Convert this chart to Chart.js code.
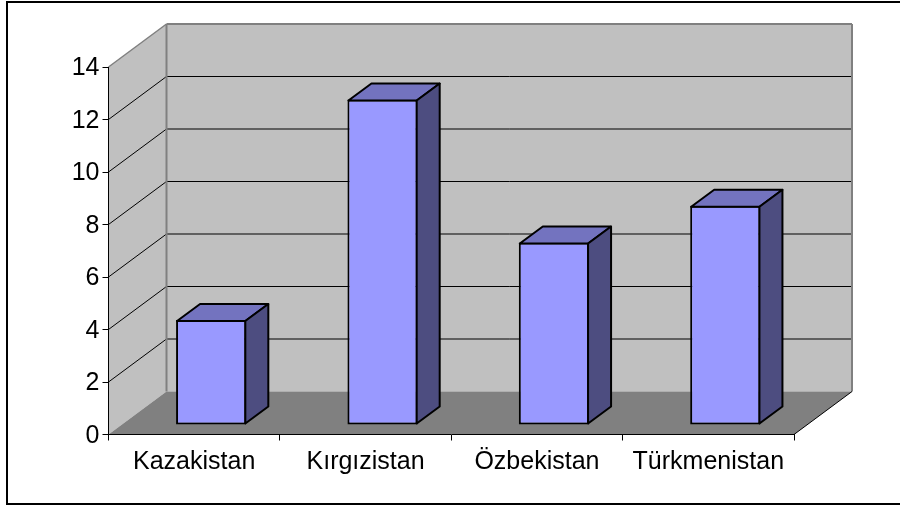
<!DOCTYPE html>
<html><head><meta charset="utf-8">
<style>html,body{margin:0;padding:0;background:#fff}#w{width:900px;height:508px}canvas{display:block}</style>
<script src="https://cdn.jsdelivr.net/npm/chart.js@4/dist/chart.umd.min.js"></script>
</head><body><div id="w"><canvas id="c" width="900" height="508"></canvas></div>
<script>
const categories = ["Kazakistan", "Kırgızistan", "Özbekistan", "Türkmenistan"];
const values = [4, 12.4, 6.95, 8.35];
const yTicks = [0, 2, 4, 6, 8, 10, 12, 14];
const FRONT = "#9999FF", TOP = "#7373BF", SIDE = "#4D4D80";
const WALL = "#C0C0C0", FLOOR = "#808080";
const BACK = {dx: 58, dy: -43};
const BAR_SHIFT = {dx: 17, dy: -9.5};
const BAR_DEPTH = {dx: 23, dy: -17};

function poly(ctx, pts, fill, stroke, lw) {
  ctx.beginPath();
  pts.forEach((p, i) => i ? ctx.lineTo(p[0], p[1]) : ctx.moveTo(p[0], p[1]));
  ctx.closePath();
  if (fill) { ctx.fillStyle = fill; ctx.fill(); }
  if (stroke) { ctx.strokeStyle = stroke; ctx.lineWidth = lw; ctx.stroke(); }
}
function line(ctx, x1, y1, x2, y2, color, lw) {
  ctx.beginPath(); ctx.moveTo(x1, y1); ctx.lineTo(x2, y2);
  ctx.strokeStyle = color; ctx.lineWidth = lw; ctx.stroke();
}
const stage = {
  id: "stage",
  beforeDraw(chart) {
    const {ctx, chartArea: a, scales: {y}} = chart;
    const bx = BACK.dx, by = BACK.dy;
    ctx.save();
    ctx.fillStyle = "#fff"; ctx.fillRect(0, 0, 900, 508);
    // outer frame
    ctx.strokeStyle = "#000"; ctx.lineWidth = 2;
    ctx.beginPath(); ctx.moveTo(901, 2); ctx.lineTo(7, 2); ctx.lineTo(7, 504); ctx.lineTo(901, 504); ctx.stroke();
    const y0 = y.getPixelForValue(0), yT = y.getPixelForValue(14);
    // walls and floor
    poly(ctx, [[a.left, y0], [a.left + bx, y0 + by], [a.left + bx, yT + by], [a.left, yT]], WALL);
    poly(ctx, [[a.left + bx, y0 + by], [a.right + bx, y0 + by], [a.right + bx, yT + by], [a.left + bx, yT + by]], WALL);
    poly(ctx, [[a.left, y0], [a.right, y0], [a.right + bx, y0 + by], [a.left + bx, y0 + by]], FLOOR);
    // grid lines
    yTicks.forEach(v => {
      if (v === 0 || v === 14) return;
      const p = y.getPixelForValue(v);
      line(ctx, a.left, p, a.left + bx, p + by, "#000", 1);
      line(ctx, a.left + bx, p + by, a.right + bx, p + by, "#000", 1);
    });
    // wall outlines
    line(ctx, a.left, yT, a.left + bx, yT + by, "#808080", 1.5);
    line(ctx, a.left + bx, yT + by, a.right + bx, yT + by, "#808080", 2);
    line(ctx, a.left + bx, yT + by, a.left + bx, y0 + by, "#808080", 2);
    line(ctx, a.right + bx, yT + by, a.right + bx, y0 + by, "#808080", 2);
    line(ctx, a.right, y0, a.right + bx, y0 + by, "#000", 1);
    ctx.restore();
  },
  beforeDatasetDraw(chart) {
    chart.ctx.save();
    chart.ctx.translate(BAR_SHIFT.dx, BAR_SHIFT.dy);
  },
  afterDatasetDraw(chart, args) {
    const ctx = chart.ctx, d = BAR_DEPTH;
    chart.getDatasetMeta(args.index).data.forEach(el => {
      const l = el.x - el.width / 2 + 1, r = el.x + el.width / 2 - 1, t = el.y + 1, b = el.base - 1;
      ctx.lineJoin = "round";
      poly(ctx, [[l, t], [r, t], [r + d.dx, t + d.dy], [l + d.dx, t + d.dy]], TOP, "#000", 2);
      poly(ctx, [[r, t], [r + d.dx, t + d.dy], [r + d.dx, b + d.dy], [r, b]], SIDE, "#000", 2);
    });
    ctx.restore();
  }
};
new Chart(document.getElementById("c"), {
  type: "bar",
  data: {labels: categories, datasets: [{
    data: values, backgroundColor: FRONT, borderColor: "#000", borderWidth: 2, borderSkipped: false,
    barPercentage: 0.41, categoryPercentage: 1, clip: false
  }]},
  plugins: [stage],
  options: {
    responsive: false, animation: false, devicePixelRatio: 1,
    layout: {padding: {left: 0, right: 106, top: 67, bottom: 0}},
    plugins: {legend: {display: false}, title: {display: false}, tooltip: {enabled: false}},
    scales: {
      x: {
        afterFit(s) { s.height = 73.5; },
        grid: {drawOnChartArea: false, drawTicks: true, tickLength: 6, tickColor: "#000", offset: true},
        border: {display: true, color: "#000", width: 1},
        ticks: {color: "#000", font: {family: "'Liberation Sans', Arial", size: 25}, padding: 7, maxRotation: 0, autoSkip: false}
      },
      y: {
        min: 0, max: 14,
        afterFit(s) { s.width = 108.5; },
        afterBuildTicks(s) { s.ticks = yTicks.map(v => ({value: v})); },
        grid: {drawOnChartArea: false, drawTicks: true, tickLength: 6, tickColor: "#000"},
        border: {display: true, color: "#000", width: 1},
        ticks: {color: "#000", font: {family: "'Liberation Sans', Arial", size: 25}, padding: 3, labelOffset: 1.5}
      }
    }
  }
});
</script></body></html>
